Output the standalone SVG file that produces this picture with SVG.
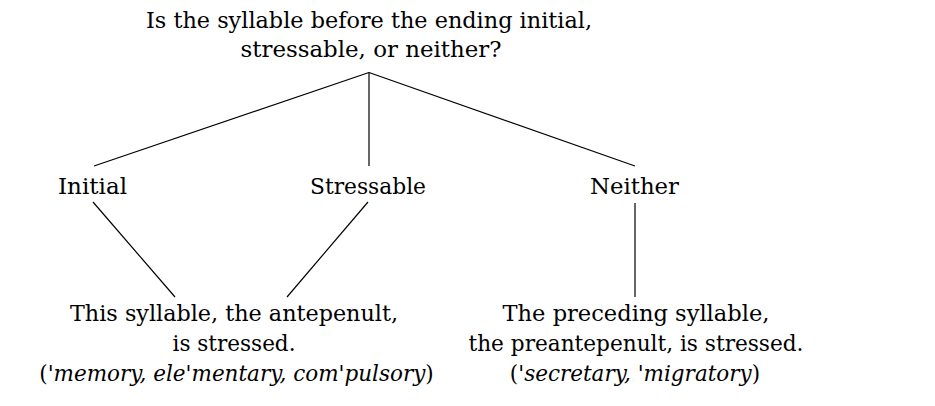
<svg xmlns="http://www.w3.org/2000/svg" width="935" height="406" viewBox="0 0 935 406">
<style>
  .t { font-family: "DejaVu Serif", serif; font-size: 23px; fill: #000; text-anchor: middle; }
  .s { font-size: 21.5px; }
  .i { font-style: italic; }
  .c { stroke: #000; stroke-width: 1.2; fill: none; stroke-linecap: butt; }
</style>
<rect width="935" height="406" fill="#fff"/>
<g id="connectors">
  <line class="c" x1="369" y1="72.5" x2="94" y2="166"/>
  <line class="c" x1="369" y1="72.5" x2="369" y2="166"/>
  <line class="c" x1="369" y1="72.5" x2="635" y2="166"/>
  <line class="c" x1="93" y1="202" x2="175" y2="297"/>
  <line class="c" x1="368" y1="202" x2="287" y2="297"/>
  <line class="c" x1="635" y1="203" x2="635" y2="297"/>
</g>
<g id="question">
  <text class="t" x="369" y="28" textLength="446" lengthAdjust="spacingAndGlyphs">Is the syllable before the ending initial,</text>
  <text class="t" x="371" y="56.5" textLength="261" lengthAdjust="spacingAndGlyphs">stressable, or neither?</text>
</g>
<g id="initial">
  <text class="t" x="92.5" y="194" textLength="69" lengthAdjust="spacingAndGlyphs">Initial</text>
</g>
<g id="stressable">
  <text class="t" x="368" y="194" textLength="116" lengthAdjust="spacingAndGlyphs">Stressable</text>
</g>
<g id="neither">
  <text class="t" x="634.5" y="194" textLength="89" lengthAdjust="spacingAndGlyphs">Neither</text>
</g>
<g id="antepenult">
  <text class="t" x="234" y="321" textLength="328" lengthAdjust="spacingAndGlyphs">This syllable, the antepenult,</text>
  <text class="t" x="234" y="351" textLength="123" lengthAdjust="spacingAndGlyphs">is stressed.</text>
  <text class="t s" x="236.5" y="381">(&apos;<tspan class="i">memory, ele</tspan>&apos;<tspan class="i">mentary, com</tspan>&apos;<tspan class="i">pulsory</tspan>)</text>
</g>
<g id="preantepenult">
  <text class="t" x="636" y="321" textLength="267" lengthAdjust="spacingAndGlyphs">The preceding syllable,</text>
  <text class="t" x="636" y="351" textLength="335" lengthAdjust="spacingAndGlyphs">the preantepenult, is stressed.</text>
  <text class="t s" x="635" y="381">(&apos;<tspan class="i">secretary, </tspan>&apos;<tspan class="i">migratory</tspan>)</text>
</g>
</svg>
